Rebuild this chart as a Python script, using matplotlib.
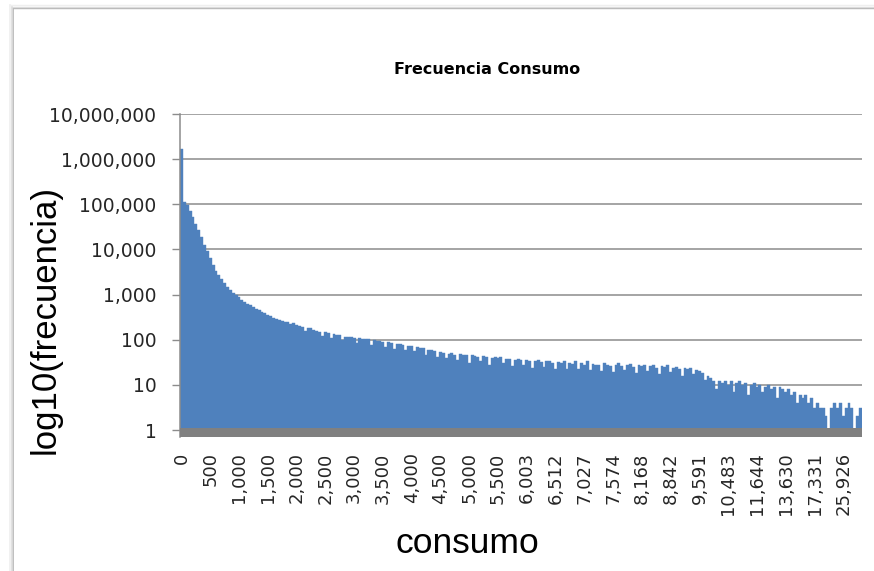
import numpy as np
from matplotlib import pyplot as plt
from matplotlib.lines import Line2D
from matplotlib.ticker import NullLocator

# consumo labels shown on the x axis, one every `label_step` bars
tick_labels = ['0', '500', '1,000', '1,500', '2,000', '2,500', '3,000', '3,500',
               '4,000', '4,500', '5,000', '5,500', '6,003', '6,512', '7,027',
               '7,574', '8,168', '8,842', '9,591', '10,483', '11,644', '13,630',
               '17,331', '25,926']
label_step = 10

# frequency of each consumo bin
freq = [1660000, 112000, 98000, 72000, 52500, 37000, 26300, 18600, 12600, 9100,
        6600, 4570, 3310, 2690, 2190, 1820, 1480, 1260, 1070, 955,
        871, 776, 692, 631, 589, 537, 490, 447, 417, 389,
        355, 331, 309, 295, 275, 263, 251, 245, 218, 229,
        214, 200, 195, 158, 182, 178, 166, 155, 151, 120,
        145, 141, 110, 132, 129, 126, 98, 117, 115, 112,
        110, 85, 107, 105, 102, 102, 78, 98, 95, 93,
        91, 70, 88, 86, 62, 82, 79, 78, 58, 74,
        71, 55, 68, 66, 64, 47, 60, 58, 56, 41,
        54, 52, 39, 49, 50, 47, 36, 48, 46, 45,
        31, 45, 44, 42, 34, 43, 41, 28, 40, 42,
        39, 41, 30, 38, 37, 26, 36, 38, 35, 27,
        35, 34, 24, 33, 35, 32, 25, 33, 33, 31,
        22, 32, 30, 33, 23, 31, 29, 33, 22, 30,
        28, 34, 21, 29, 27, 28, 20, 30, 27, 26,
        19, 28, 30, 26, 21, 27, 29, 25, 18, 27,
        26, 28, 20, 26, 27, 24, 17, 26, 25, 28,
        19, 24, 25, 22, 16, 24, 23, 24, 17, 21,
        20, 18, 13, 16, 14, 12, 8, 12, 11, 12,
        10, 12, 7, 11, 12, 10, 11, 6, 10, 11,
        9, 10, 7, 9, 10, 8, 9, 5, 9, 8,
        7, 8, 6, 7, 4, 6, 5, 6, 4, 5,
        3, 4, 3, 3, 2, 1, 3, 4, 3, 4,
        2, 3, 4, 3, 1, 2, 3]

W, H = 874, 571
fig = plt.figure(figsize=(W / 100, H / 100), dpi=100)

# chart frame with a soft shadow on the left/top
for off, c in [(0, '#b4b4b4'), (1.5, '#dcdcdc'), (3, '#efefef')]:
    fig.add_artist(Line2D([(13 - off) / W, (13 - off) / W], [0, 1 - (8 - off) / H],
                          color=c, lw=1.2, transform=fig.transFigure))
    fig.add_artist(Line2D([(13 - off) / W, 1], [1 - (8 - off) / H, 1 - (8 - off) / H],
                          color=c, lw=1.0, transform=fig.transFigure))

ax = fig.add_axes([180 / W, 1 - 437 / H, 682 / W, (437 - 114) / H])

x = np.arange(len(freq))
vals = np.array(freq, dtype=float)
ax.bar(x, vals - 1, bottom=1, width=1.0, color='#4f81bd',
       edgecolor='#4f81bd', linewidth=0.3, zorder=2)

ax.set_yscale('log')
ymin = 0.70
ax.set_ylim(ymin, 1e7)
ax.set_xlim(-0.5, len(freq) - 0.5)

# grey floor under the bars
ax.axhspan(ymin, 1.08, color='#808080', lw=0, zorder=3)

yt = [10 ** k for k in range(8)]
ax.set_yticks(yt)
ax.set_yticklabels(['{:,}'.format(v) for v in yt])
ax.yaxis.set_minor_locator(NullLocator())
ax.grid(axis='y', color='#8c8c8c', lw=1.1, zorder=0)
ax.set_axisbelow(True)

ax.set_xticks(np.arange(len(tick_labels)) * label_step)
ax.set_xticklabels(tick_labels, rotation=90, va='top', ha='center')

ax.tick_params(axis='y', length=6, width=1.0, color='#8c8c8c', pad=11,
               labelsize=13.5, labelcolor='#262626')
ax.tick_params(axis='x', length=0, pad=11, labelsize=13, labelcolor='#262626')

for s in ['top', 'right', 'bottom']:
    ax.spines[s].set_visible(False)
ax.spines['left'].set_color('#8c8c8c')
ax.spines['left'].set_linewidth(1.1)

fig.text(487 / W, 1 - 70 / H, 'Frecuencia Consumo', fontsize=11.5,
         fontweight='bold', ha='center', va='center')
fig.text(45 / W, 1 - 319 / H, 'log10(frecuencia)', fontsize=25,
         family='Liberation Sans', rotation=90, ha='center', va='center')
fig.text(467 / W, 1 - 553 / H, 'consumo', fontsize=25.5,
         family='Liberation Sans', ha='center', va='baseline')

fig.savefig('out.png', dpi=100)
